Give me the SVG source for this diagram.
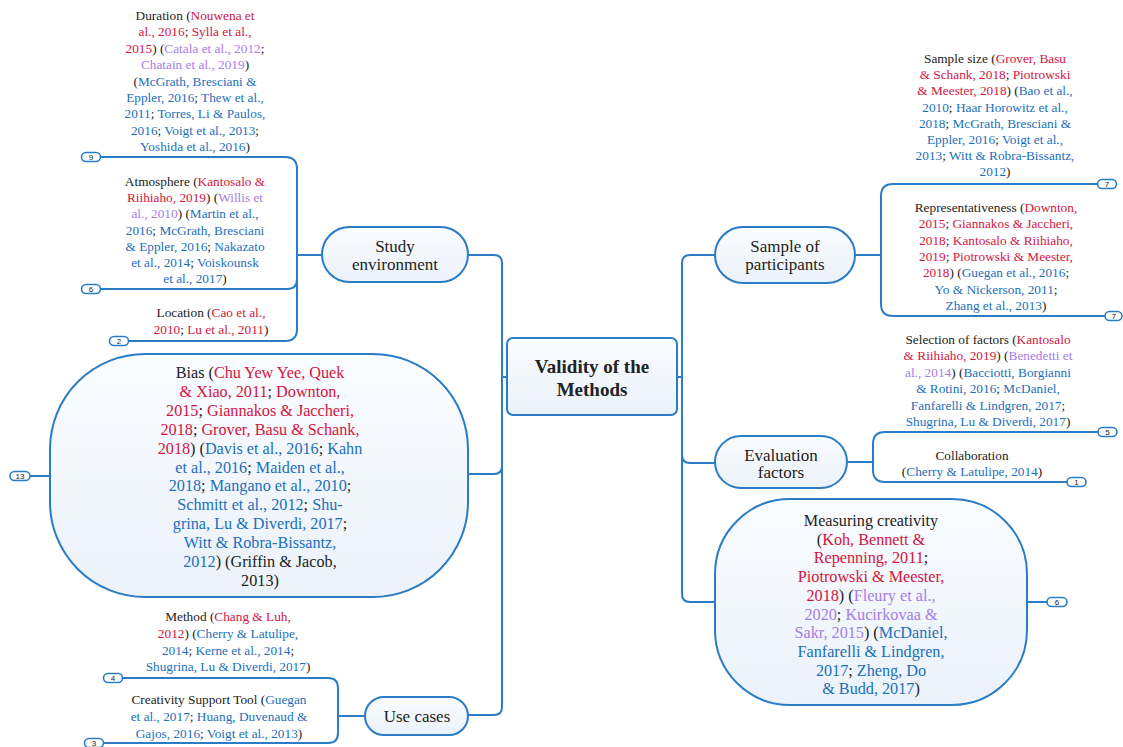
<svg xmlns="http://www.w3.org/2000/svg" width="1123" height="747" viewBox="0 0 1123 747">
<defs>
<linearGradient id="nf" x1="0" y1="0" x2="0" y2="1">
<stop offset="0" stop-color="#fafcff"/>
<stop offset="1" stop-color="#ebf2fa"/>
</linearGradient>
<style>
text{font-family:"Liberation Serif","Times New Roman",serif;fill:#222;text-anchor:middle}
.s{font-size:13.3px}
.m{font-size:16.2px}
.t{font-size:17px}
.c{font-size:19px;font-weight:bold}
.n{font-size:8px;font-family:"Liberation Sans",Arial,sans-serif}
.r{fill:#d4153f}
.p{fill:#a47ee6}
.b{fill:#1c6fbb}
.node{fill:url(#nf);stroke:#2b7cc6;stroke-width:2}
.ln{fill:none;stroke:#2b7cc6;stroke-width:2}
.bd{fill:#fff;stroke:#2b7cc6;stroke-width:1.6}
</style>
</defs>
<rect width="1123" height="747" fill="#fff"/>

<g id="connectors">
<path class="ln" d="M507,377 H502 M677,377 H682"/>
<path class="ln" d="M468,255 H494 Q502,255 502,263 V707 Q502,715 494,715 H468"/>
<path class="ln" d="M468,474 H494 Q502,474 502,466"/>
<path class="ln" d="M715,255 H690 Q682,255 682,263 V594 Q682,602 690,602 H715"/>
<path class="ln" d="M715,463 H690 Q682,463 682,455"/>
<path class="ln" d="M322,255 H297"/>
<path class="ln" d="M101,157 H285 Q297,157 297,169 V329 Q297,341 285,341 H129"/>
<path class="ln" d="M101,289 H287 Q297,289 297,279"/>
<path class="ln" d="M30,476 H50"/>
<path class="ln" d="M365,716 H338"/>
<path class="ln" d="M123,678 H328 Q338,678 338,688 V733 Q338,743 328,743 H103"/>
<path class="ln" d="M855,255 H881"/>
<path class="ln" d="M1097,184 H893 Q881,184 881,196 V304 Q881,316 893,316 H1105"/>
<path class="ln" d="M847,462 H873"/>
<path class="ln" d="M1098,432 H885 Q873,432 873,444 V470 Q873,482 885,482 H1067"/>
<path class="ln" d="M1027,602 H1047"/>
</g>

<g id="badges">
<g id="badge-9"><rect class="bd" x="81.5" y="152.5" width="19" height="9" rx="4.5"/><text class="n" x="91" y="160">9</text></g>
<g id="badge-6a"><rect class="bd" x="81.5" y="284.5" width="19" height="9" rx="4.5"/><text class="n" x="91" y="292">6</text></g>
<g id="badge-2"><rect class="bd" x="109.5" y="336.5" width="19" height="9" rx="4.5"/><text class="n" x="119" y="344">2</text></g>
<g id="badge-13"><rect class="bd" x="10" y="471.5" width="20" height="9" rx="4.5"/><text class="n" x="20" y="479">13</text></g>
<g id="badge-4"><rect class="bd" x="103.5" y="673.5" width="19" height="9" rx="4.5"/><text class="n" x="113" y="681">4</text></g>
<g id="badge-3"><rect class="bd" x="84.5" y="738.5" width="19" height="9" rx="4.5"/><text class="n" x="94" y="746">3</text></g>
<g id="badge-7a"><rect class="bd" x="1097.5" y="179.5" width="19" height="9" rx="4.5"/><text class="n" x="1107" y="187">7</text></g>
<g id="badge-7b"><rect class="bd" x="1105" y="311.5" width="17" height="9" rx="4.5"/><text class="n" x="1114" y="319">7</text></g>
<g id="badge-5"><rect class="bd" x="1098" y="427.5" width="19" height="9" rx="4.5"/><text class="n" x="1107.5" y="435">5</text></g>
<g id="badge-1"><rect class="bd" x="1067" y="477.5" width="19" height="9" rx="4.5"/><text class="n" x="1076.5" y="485">1</text></g>
<g id="badge-6b"><rect class="bd" x="1047" y="597.5" width="20" height="9" rx="4.5"/><text class="n" x="1057" y="605">6</text></g>
</g>

<g id="center">
<rect class="node" x="507" y="338" width="170" height="77" rx="6"/>
<text class="c" x="592" y="373">Validity of the</text>
<text class="c" x="592" y="396">Methods</text>
</g>

<g id="study-environment">
<rect class="node" x="322" y="227" width="146" height="55" rx="27.5"/>
<text class="t" x="395" y="252">Study</text>
<text class="t" x="395" y="270">environment</text>
</g>

<g id="duration">
<text class="s" x="195" y="20">Duration (<tspan class="r">Nouwena et</tspan></text>
<text class="s" x="195" y="36.4"><tspan class="r">al., 2016</tspan>; <tspan class="r">Sylla et al.,</tspan></text>
<text class="s" x="195" y="52.8"><tspan class="r">2015</tspan>) (<tspan class="p">Catala et al., 2012</tspan>;</text>
<text class="s" x="195" y="69.2"><tspan class="p">Chatain et al., 2019</tspan>)</text>
<text class="s" x="195" y="85.6">(<tspan class="b">McGrath, Bresciani &amp;</tspan></text>
<text class="s" x="195" y="102"><tspan class="b">Eppler, 2016</tspan>; <tspan class="b">Thew et al.,</tspan></text>
<text class="s" x="195" y="118.4"><tspan class="b">2011</tspan>; <tspan class="b">Torres, Li &amp; Paulos,</tspan></text>
<text class="s" x="195" y="134.8"><tspan class="b">2016</tspan>; <tspan class="b">Voigt et al., 2013</tspan>;</text>
<text class="s" x="195" y="151.2"><tspan class="b">Yoshida et al., 2016</tspan>)</text>
</g>

<g id="atmosphere">
<text class="s" x="195" y="186">Atmosphere (<tspan class="r">Kantosalo &amp;</tspan></text>
<text class="s" x="195" y="202.2"><tspan class="r">Riihiaho, 2019</tspan>) (<tspan class="p">Willis et</tspan></text>
<text class="s" x="195" y="218.4"><tspan class="p">al., 2010</tspan>) (<tspan class="b">Martin et al.,</tspan></text>
<text class="s" x="195" y="234.6"><tspan class="b">2016</tspan>; <tspan class="b">McGrath, Bresciani</tspan></text>
<text class="s" x="195" y="250.8"><tspan class="b">&amp; Eppler, 2016</tspan>; <tspan class="b">Nakazato</tspan></text>
<text class="s" x="195" y="267"><tspan class="b">et al., 2014</tspan>; <tspan class="b">Voiskounsk</tspan></text>
<text class="s" x="195" y="283.2"><tspan class="b">et al., 2017</tspan>)</text>
</g>

<g id="location">
<text class="s" x="211" y="317">Location (<tspan class="r">Cao et al.,</tspan></text>
<text class="s" x="211" y="334"><tspan class="r">2010</tspan>; <tspan class="r">Lu et al., 2011</tspan>)</text>
</g>

<g id="bias">
<rect class="node" x="50" y="354" width="418" height="243" rx="95"/>
<text class="m" x="260" y="378">Bias (<tspan class="r">Chu Yew Yee, Quek</tspan></text>
<text class="m" x="260" y="396.9"><tspan class="r">&amp; Xiao, 2011</tspan>; <tspan class="r">Downton,</tspan></text>
<text class="m" x="260" y="415.8"><tspan class="r">2015</tspan>; <tspan class="r">Giannakos &amp; Jaccheri,</tspan></text>
<text class="m" x="260" y="434.7"><tspan class="r">2018</tspan>; <tspan class="r">Grover, Basu &amp; Schank,</tspan></text>
<text class="m" x="260" y="453.6"><tspan class="r">2018</tspan>) (<tspan class="b">Davis et al., 2016</tspan>; <tspan class="b">Kahn</tspan></text>
<text class="m" x="260" y="472.5"><tspan class="b">et al., 2016</tspan>; <tspan class="b">Maiden et al.,</tspan></text>
<text class="m" x="260" y="491.4"><tspan class="b">2018</tspan>; <tspan class="b">Mangano et al., 2010</tspan>;</text>
<text class="m" x="260" y="510.3"><tspan class="b">Schmitt et al., 2012</tspan>; <tspan class="b">Shu-</tspan></text>
<text class="m" x="260" y="529.2"><tspan class="b">grina, Lu &amp; Diverdi, 2017</tspan>;</text>
<text class="m" x="260" y="548.1"><tspan class="b">Witt &amp; Robra-Bissantz,</tspan></text>
<text class="m" x="260" y="567"><tspan class="b">2012</tspan>) (Griffin &amp; Jacob,</text>
<text class="m" x="260" y="585.9">2013)</text>
</g>

<g id="use-cases">
<rect class="node" x="365" y="697" width="103" height="38" rx="19"/>
<text class="t" x="417" y="722">Use cases</text>
</g>

<g id="method">
<text class="s" x="228" y="621">Method (<tspan class="r">Chang &amp; Luh,</tspan></text>
<text class="s" x="228" y="638"><tspan class="r">2012</tspan>) (<tspan class="b">Cherry &amp; Latulipe,</tspan></text>
<text class="s" x="228" y="655"><tspan class="b">2014</tspan>; <tspan class="b">Kerne et al., 2014</tspan>;</text>
<text class="s" x="228" y="671"><tspan class="b">Shugrina, Lu &amp; Diverdi, 2017</tspan>)</text>
</g>

<g id="creativity-support-tool">
<text class="s" x="219" y="704">Creativity Support Tool (<tspan class="b">Guegan</tspan></text>
<text class="s" x="219" y="721"><tspan class="b">et al., 2017</tspan>; <tspan class="b">Huang, Duvenaud &amp;</tspan></text>
<text class="s" x="219" y="738"><tspan class="b">Gajos, 2016</tspan>; <tspan class="b">Voigt et al., 2013</tspan>)</text>
</g>

<g id="sample-of-participants">
<rect class="node" x="715" y="227" width="140" height="56" rx="28"/>
<text class="t" x="785" y="252">Sample of</text>
<text class="t" x="785" y="270">participants</text>
</g>

<g id="sample-size">
<text class="s" x="995" y="63">Sample size (<tspan class="r">Grover, Basu</tspan></text>
<text class="s" x="995" y="79.2"><tspan class="r">&amp; Schank, 2018</tspan>; <tspan class="r">Piotrowski</tspan></text>
<text class="s" x="995" y="95.4"><tspan class="r">&amp; Meester, 2018</tspan>) (<tspan class="b">Bao et al.,</tspan></text>
<text class="s" x="995" y="111.6"><tspan class="b">2010</tspan>; <tspan class="b">Haar Horowitz et al.,</tspan></text>
<text class="s" x="995" y="127.8"><tspan class="b">2018</tspan>; <tspan class="b">McGrath, Bresciani &amp;</tspan></text>
<text class="s" x="995" y="144"><tspan class="b">Eppler, 2016</tspan>; <tspan class="b">Voigt et al.,</tspan></text>
<text class="s" x="995" y="160.2"><tspan class="b">2013</tspan>; <tspan class="b">Witt &amp; Robra-Bissantz,</tspan></text>
<text class="s" x="995" y="176.4"><tspan class="b">2012</tspan>)</text>
</g>

<g id="representativeness">
<text class="s" x="996" y="212">Representativeness (<tspan class="r">Downton,</tspan></text>
<text class="s" x="996" y="228.3"><tspan class="r">2015</tspan>; <tspan class="r">Giannakos &amp; Jaccheri,</tspan></text>
<text class="s" x="996" y="244.6"><tspan class="r">2018</tspan>; <tspan class="r">Kantosalo &amp; Riihiaho,</tspan></text>
<text class="s" x="996" y="260.9"><tspan class="r">2019</tspan>; <tspan class="r">Piotrowski &amp; Meester,</tspan></text>
<text class="s" x="996" y="277.2"><tspan class="r">2018</tspan>) (<tspan class="b">Guegan et al., 2016</tspan>;</text>
<text class="s" x="996" y="293.5"><tspan class="b">Yo &amp; Nickerson, 2011</tspan>;</text>
<text class="s" x="996" y="309.8"><tspan class="b">Zhang et al., 2013</tspan>)</text>
</g>

<g id="evaluation-factors">
<rect class="node" x="715" y="436" width="132" height="52" rx="26"/>
<text class="t" x="781" y="461">Evaluation</text>
<text class="t" x="781" y="478">factors</text>
</g>

<g id="selection-of-factors">
<text class="s" x="988" y="344">Selection of factors (<tspan class="r">Kantosalo</tspan></text>
<text class="s" x="988" y="360.4"><tspan class="r">&amp; Riihiaho, 2019</tspan>) (<tspan class="p">Benedetti et</tspan></text>
<text class="s" x="988" y="376.8"><tspan class="p">al., 2014</tspan>) (<tspan class="b">Bacciotti, Borgianni</tspan></text>
<text class="s" x="988" y="393.2"><tspan class="b">&amp; Rotini, 2016</tspan>; <tspan class="b">McDaniel,</tspan></text>
<text class="s" x="988" y="409.6"><tspan class="b">Fanfarelli &amp; Lindgren, 2017</tspan>;</text>
<text class="s" x="988" y="426"><tspan class="b">Shugrina, Lu &amp; Diverdi, 2017</tspan>)</text>
</g>

<g id="collaboration">
<text class="s" x="972" y="460">Collaboration</text>
<text class="s" x="972" y="476">(<tspan class="b">Cherry &amp; Latulipe, 2014</tspan>)</text>
</g>

<g id="measuring-creativity">
<rect class="node" x="715" y="499" width="312" height="206" rx="75"/>
<text class="m" x="871" y="526">Measuring creativity</text>
<text class="m" x="871" y="544.7">(<tspan class="r">Koh, Bennett &amp;</tspan></text>
<text class="m" x="871" y="563.4"><tspan class="r">Repenning, 2011</tspan>;</text>
<text class="m" x="871" y="582.1"><tspan class="r">Piotrowski &amp; Meester,</tspan></text>
<text class="m" x="871" y="600.8"><tspan class="r">2018</tspan>) (<tspan class="p">Fleury et al.,</tspan></text>
<text class="m" x="871" y="619.5"><tspan class="p">2020</tspan>; <tspan class="p">Kucirkovaa &amp;</tspan></text>
<text class="m" x="871" y="638.2"><tspan class="p">Sakr, 2015</tspan>) (<tspan class="b">McDaniel,</tspan></text>
<text class="m" x="871" y="656.9"><tspan class="b">Fanfarelli &amp; Lindgren,</tspan></text>
<text class="m" x="871" y="675.6"><tspan class="b">2017</tspan>; <tspan class="b">Zheng, Do</tspan></text>
<text class="m" x="871" y="694.3"><tspan class="b">&amp; Budd, 2017</tspan>)</text>
</g>
</svg>
